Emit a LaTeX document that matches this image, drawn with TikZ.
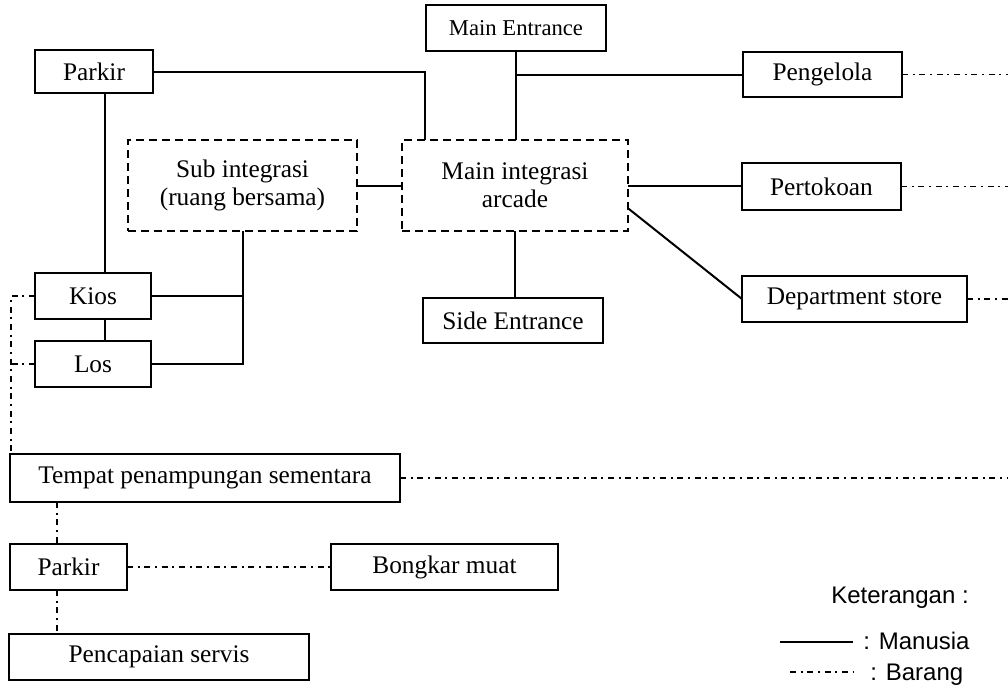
\documentclass[tikz,border=0pt]{standalone}
\usepackage{fontspec}
\setmainfont{Liberation Serif}
\newfontfamily\legfont{Liberation Sans}
\usetikzlibrary{calc}
\newcommand\pxu{0.75pt}
\begin{document}
\begin{tikzpicture}[x=0.75pt,y=-0.75pt,
  box/.style={draw,line width=1.5pt,inner sep=0pt,outer sep=0pt,font=\fontsize{19}{21}\selectfont,align=center},
  dbox/.style={box,dash pattern=on 6pt off 3.75pt},
  man/.style={line width=1.5pt},
  brg/.style={line width=1.2pt,dash pattern=on 4.5pt off 3.5pt on 1.5pt off 3.5pt},
  sz/.style n args={2}{minimum width=#1*\pxu,minimum height=#2*\pxu}]
\useasboundingbox (0,0) rectangle (1008,700);
\fill[white] (0,0) rectangle (1008,700);

\node[box,sz={180}{46},font=\fontsize{17}{20}\selectfont] (me) at (516,28) {Main Entrance};
\node[box,sz={118}{43}] (parkir1) at (94,71.5) {Parkir};
\node[box,sz={159}{45}] (peng) at (822.5,74.5) {Pengelola};
\node[dbox,sz={229}{91}] (sub) at (242.5,185.5) {Sub integrasi\\(ruang bersama)};
\node[dbox,sz={226}{91}] (mi) at (515,185.5) {Main integrasi\\arcade};
\node[box,sz={159}{47}] (pert) at (821.5,186.5) {Pertokoan};
\node[box,sz={225}{46}] (dept) at (854.5,299) {Department store};
\node[box,sz={116}{46}] (kios) at (93,296) {Kios};
\node[box,sz={116}{46}] (los) at (93,364) {Los};
\node[box,sz={180}{45}] (side) at (513,320.5) {Side Entrance};
\node[box,sz={390}{48}] (tempat) at (205,478) {Tempat penampungan sementara};
\node[box,sz={117}{46}] (parkir2) at (68.5,567) {Parkir};
\node[box,sz={227}{46}] (bongkar) at (444.5,567) {Bongkar muat};
\node[box,sz={300}{46}] (penc) at (159,657) {Pencapaian servis};

\coordinate (vx) at (105,0);
\coordinate (bx) at (243,0);
\coordinate (re) at (1008,0);
\coordinate (lx) at (11,0);
\coordinate (px) at (57,0);

% Manusia
\draw[man] (parkir1.east) -| ($(mi.north west)!0.1!(mi.north east)$);
\draw[man] (me.south) -- (me.south |- mi.north);
\draw[man] (me.south |- peng.west) -- (peng.west);
\draw[man] (parkir1.south -| vx) -- (kios.north -| vx);
\draw[man] (kios.south -| vx) -- (los.north -| vx);
\draw[man] (sub.east) -- (mi.west);
\draw[man] (sub.south -| bx) |- (los.east);
\draw[man] (kios.east) -- (kios.east -| bx);
\draw[man] (mi.east) -- (mi.east -| pert.west);
\draw[man] ($(mi.north east)!0.75!(mi.south east)$) -- (dept.west);
\draw[man] (mi.south) -- (mi.south |- side.north);

% Barang
\draw[brg] (peng.east) -- (peng.east -| re);
\draw[brg] (pert.east) -- (pert.east -| re);
\draw[brg] (dept.east) -- (dept.east -| re);
\draw[brg] (tempat.east) -- (tempat.east -| re);
\draw[brg] (kios.west) -| (tempat.north -| lx);
\draw[brg] (los.west) -- (los.west -| lx);
\draw[brg] (tempat.south -| px) -- (parkir2.north -| px);
\draw[brg] (parkir2.east) -- (bongkar.west);
\draw[brg] (parkir2.south -| px) -- (penc.north -| px);

% Legend
\node[font=\legfont\fontsize{18}{21}\selectfont,inner sep=0pt] (ket) at (900,598) {Keterangan :};
\node[font=\legfont\fontsize{18}{21}\selectfont,inner sep=0pt,anchor=west] (lman) at (863,641) {: Manusia};
\node[font=\legfont\fontsize{18}{21}\selectfont,inner sep=0pt,anchor=west] (lbrg) at (870,675) {: Barang};
\coordinate (l1) at (780,642);
\coordinate (l2) at (790,672);
\draw[line width=1.1pt] (l1) -- ([xshift=-7.5pt]lman.west |- l1);
\draw[brg,line width=0.9pt] (l2) -- ([xshift=-12.75pt]lbrg.west |- l2);
\end{tikzpicture}
\end{document}
